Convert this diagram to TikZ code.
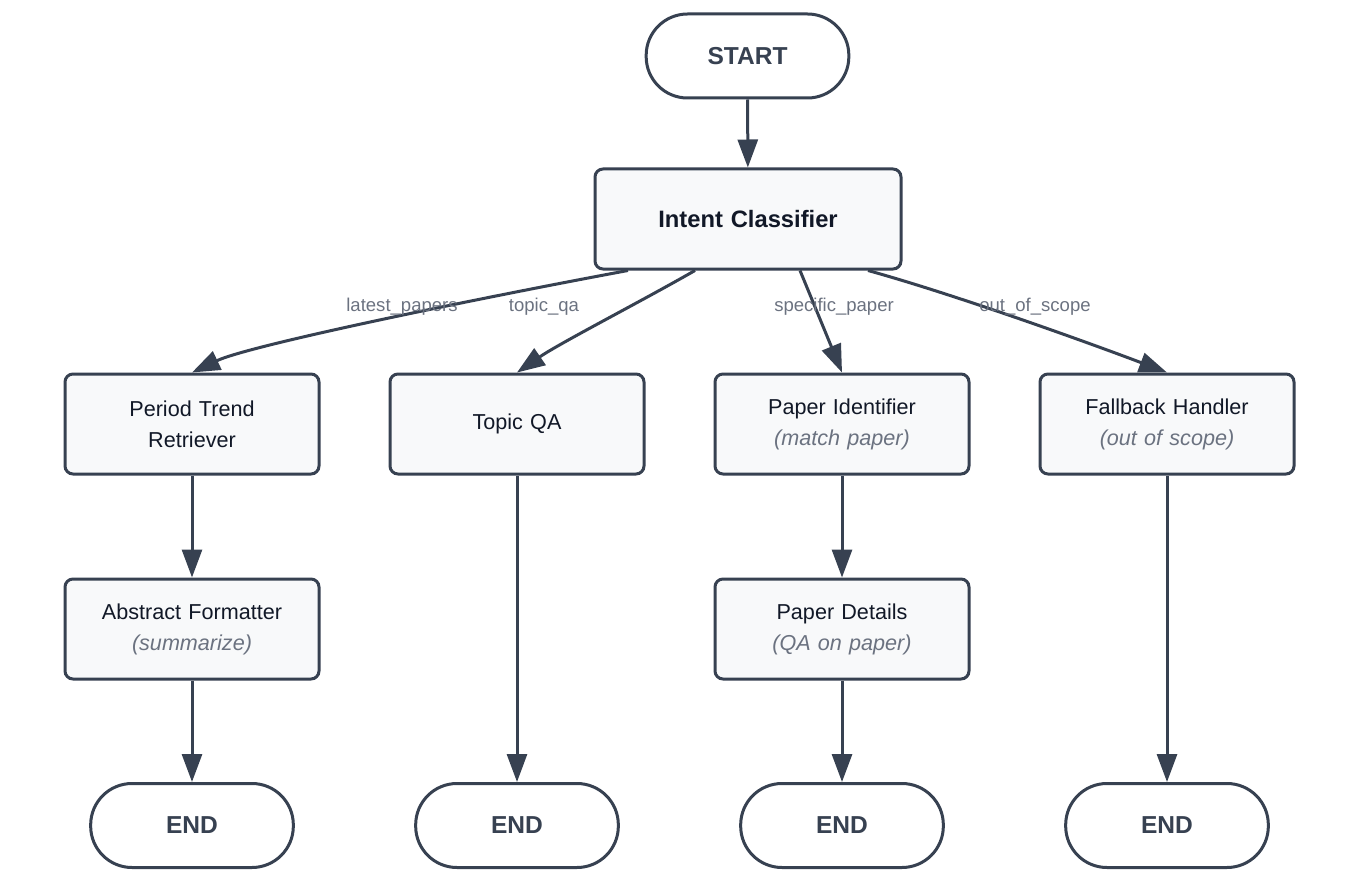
\documentclass[tikz,border=0pt]{standalone}
\usepackage{fontspec}
\setmainfont{Liberation Sans}
\usetikzlibrary{arrows.meta}
\definecolor{edgec}{RGB}{55,65,81}
\definecolor{boxfill}{RGB}{248,249,250}
\definecolor{labelc}{RGB}{107,114,128}
\definecolor{textc}{RGB}{17,24,39}
\newcommand{\subnote}[1]{{\color{labelc}\itshape #1}}

\begin{document}
\begin{tikzpicture}[x=0.75pt, y=-0.75pt,
            box/.style={rectangle, rounded corners=6pt, draw=edgec, line width=2.25pt, fill=boxfill, minimum width=190.5pt, minimum height=75pt, text width=170pt, align=center, text=textc, font=\fontsize{16.2}{23.25}\selectfont},
            term/.style={rectangle, rounded corners=31pt, draw=edgec, line width=2.25pt, fill=white, minimum width=152pt, minimum height=63pt, text=edgec, font=\fontsize{18.4}{22}\selectfont\bfseries},
            elabel/.style={text=labelc, font=\fontsize{13.9}{16}\selectfont},
            arr/.style={draw=edgec, line width=2.25pt, -{Triangle[length=21pt,width=15pt]}}]
        \useasboundingbox (0,0) rectangle (1348,884);

        \node[term] (start) at (747.5,56) {START};
        \node[box, minimum width=229.5pt, text width=210pt, font=\fontsize{17.8}{22}\selectfont\bfseries] (ic) at (748,219) {Intent Classifier};

        \node[box] (ptr) at (192,424) {Period Trend\\Retriever};
        \node[box] (tqa) at (517,424) {\raisebox{-2pt}{Topic QA}};
        \node[box] (pid) at (842,424) {Paper Identifier\\\subnote{(match paper)}};
        \node[box] (fbh) at (1167,424) {Fallback Handler\\\subnote{(out of scope)}};

        \node[box] (abf) at (192,629) {Abstract Formatter\\\subnote{(summarize)}};
        \node[box] (pdt) at (842,629) {Paper Details\\\subnote{(QA on paper)}};

        \node[term] (end1) at (192,825.5) {END};
        \node[term] (end2) at (517,825.5) {END};
        \node[term] (end3) at (842,825.5) {END};
        \node[term] (end4) at (1167,825.5) {END};

        \draw[arr] (start) -- (ic);
        \draw[arr] ([xshift=-90pt]ic.south) .. controls (480,298) and (250,345) .. (ptr.north);
        \draw[arr] ([xshift=-39.75pt]ic.south) .. controls (640,302) and (560,343) .. (tqa.north);
        \draw[arr] ([xshift=39pt]ic.south) -- (pid.north);
        \draw[arr] ([xshift=90pt]ic.south) .. controls (960,296) and (1100,347) .. (fbh.north);

        \node[elabel] (l1) at (402,307) {latest\_papers};
        \node[elabel] (l2) at (544,307) {topic\_qa};
        \node[elabel] (l3) at (834,307) {specific\_paper};
        \node[elabel] (l4) at (1035,307) {out\_of\_scope};

        \draw[arr] (ptr) -- (abf);
        \draw[arr] (abf) -- (end1);
        \draw[arr] (tqa) -- (end2);
        \draw[arr] (pid) -- (pdt);
        \draw[arr] (pdt) -- (end3);
        \draw[arr] (fbh) -- (end4);
    \end{tikzpicture}
\end{document}
